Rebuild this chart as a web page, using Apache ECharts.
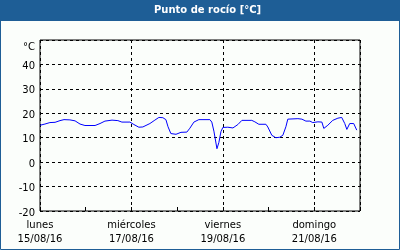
<!DOCTYPE html>
<html><head><meta charset="utf-8">
<script src="https://cdn.jsdelivr.net/npm/echarts@6/dist/echarts.min.js"></script>
<style>html,body{margin:0;padding:0;background:#fbfefb;}#c{width:400px;height:250px;}</style>
</head><body><div id="c"></div>
<script>
var hours = [0,2.6,5.2,7.9,10.5,12.6,15.7,18.4,21,23.6,28.9,31.5,34.1,37.8,40.9,43,47.2,49.3,51.9,54,57.7,60.3,62.4,64.5,66.1,67.2,68.7,71.4,74,77.1,78.7,80.8,83.4,89.2,90.2,91.3,92.9,93.9,95,96,98.6,101.3,102.3,103.9,106,111.2,112.8,114.9,118.6,119.6,121.7,123.8,125.9,127.5,129.1,130.1,135.4,137.5,139.6,141.7,143.2,145.9,148,149,151.1,153.7,156.4,158.4,160,161.1,162.6,164.7,166.3];
var dewPoint = [15.1,15.6,16.2,16.3,17.0,17.4,17.3,16.9,15.6,15.0,15.0,15.8,16.8,17.2,17.0,16.4,16.4,15.4,14.3,14.4,15.8,17.2,18.3,18.2,17.4,14.5,11.7,11.4,12.2,12.3,13.9,16.4,17.4,17.4,16.4,12.7,5.5,8.0,12.5,14.2,14.3,14.0,13.3,15.4,17.1,17.1,16.5,15.5,15.5,14.4,11.0,10.0,10.2,11.0,14.5,17.6,17.8,17.6,16.8,16.8,16.2,16.5,16.4,13.8,15.1,17.1,18.0,18.3,15.8,13.4,15.8,15.8,13.1];
var dayNames = ['lunes','miércoles','viernes','domingo'];
var dateLabels = ['15/08/16','17/08/16','19/08/16','21/08/16'];
var yTicks = [-20,-10,0,10,20,30,40];
var yUnit = '°C';
var titleText = 'Punto de rocío [°C]';

var pts = hours.map(function(h,i){return [h, dewPoint[i]];});
var font = 'DejaVu Sans';
var chart = echarts.init(document.getElementById('c'), null, {renderer:'canvas'});
chart.setOption({
  backgroundColor:'#fbfefb',
  animation:false,
  title:{text:titleText, left:154, top:4, padding:0,
    textStyle:{color:'#ffffff', fontFamily:font, fontWeight:'bold', fontSize:10, lineHeight:12}},
  graphic:[
    {type:'rect', z:-1, shape:{x:0,y:0,width:400,height:21}, style:{fill:'#1e5e96'}},
    {type:'rect', z:-1, shape:{x:0.5,y:0.5,width:399,height:249}, style:{fill:null, stroke:'#1e5e96', lineWidth:1}}
  ],
  grid:{left:40, right:40, top:40, bottom:39, show:true, borderColor:'#000', borderWidth:1, backgroundColor:'transparent'},
  xAxis:[{
    type:'value', min:0, max:168, interval:48,
    axisLine:{show:false}, axisTick:{show:false},
    splitLine:{show:true, lineStyle:{color:'#000', type:[3,3], width:1}},
    axisLabel:{show:true, showMaxLabel:false, margin:7, color:'#000', fontFamily:font, fontSize:10, lineHeight:14,
      formatter:function(v){var i=Math.round(v/48); if(v%48!==0||i>3) return ''; return dayNames[i]+'\n'+dateLabels[i];}}
  },{
    type:'value', min:0, max:168, interval:24, position:'bottom',
    axisLine:{show:false}, axisLabel:{show:false}, splitLine:{show:false},
    axisTick:{show:true, inside:true, length:4, lineStyle:{color:'#000'}}
  }],
  yAxis:{
    type:'value', min:-20, max:50, interval:10,
    axisLine:{show:false}, axisTick:{show:false},
    splitLine:{show:true, lineStyle:{color:'#000', type:[3,3], width:1}},
    axisLabel:{margin:5, color:'#000', fontFamily:font, fontSize:10, padding:[4,0,0,0],
      formatter:function(v){ if(v===50) return '{u|'+yUnit+'}'; return yTicks.indexOf(v)>=0 ? String(v) : '';},
      rich:{u:{fontFamily:font, fontSize:10, color:'#000', padding:[10,0,0,0]}}}
  },
  series:[{type:'line', xAxisIndex:0, data:pts, showSymbol:false, symbol:'none',
    lineStyle:{color:'#0000ff', width:1}}]
});
</script></body></html>
